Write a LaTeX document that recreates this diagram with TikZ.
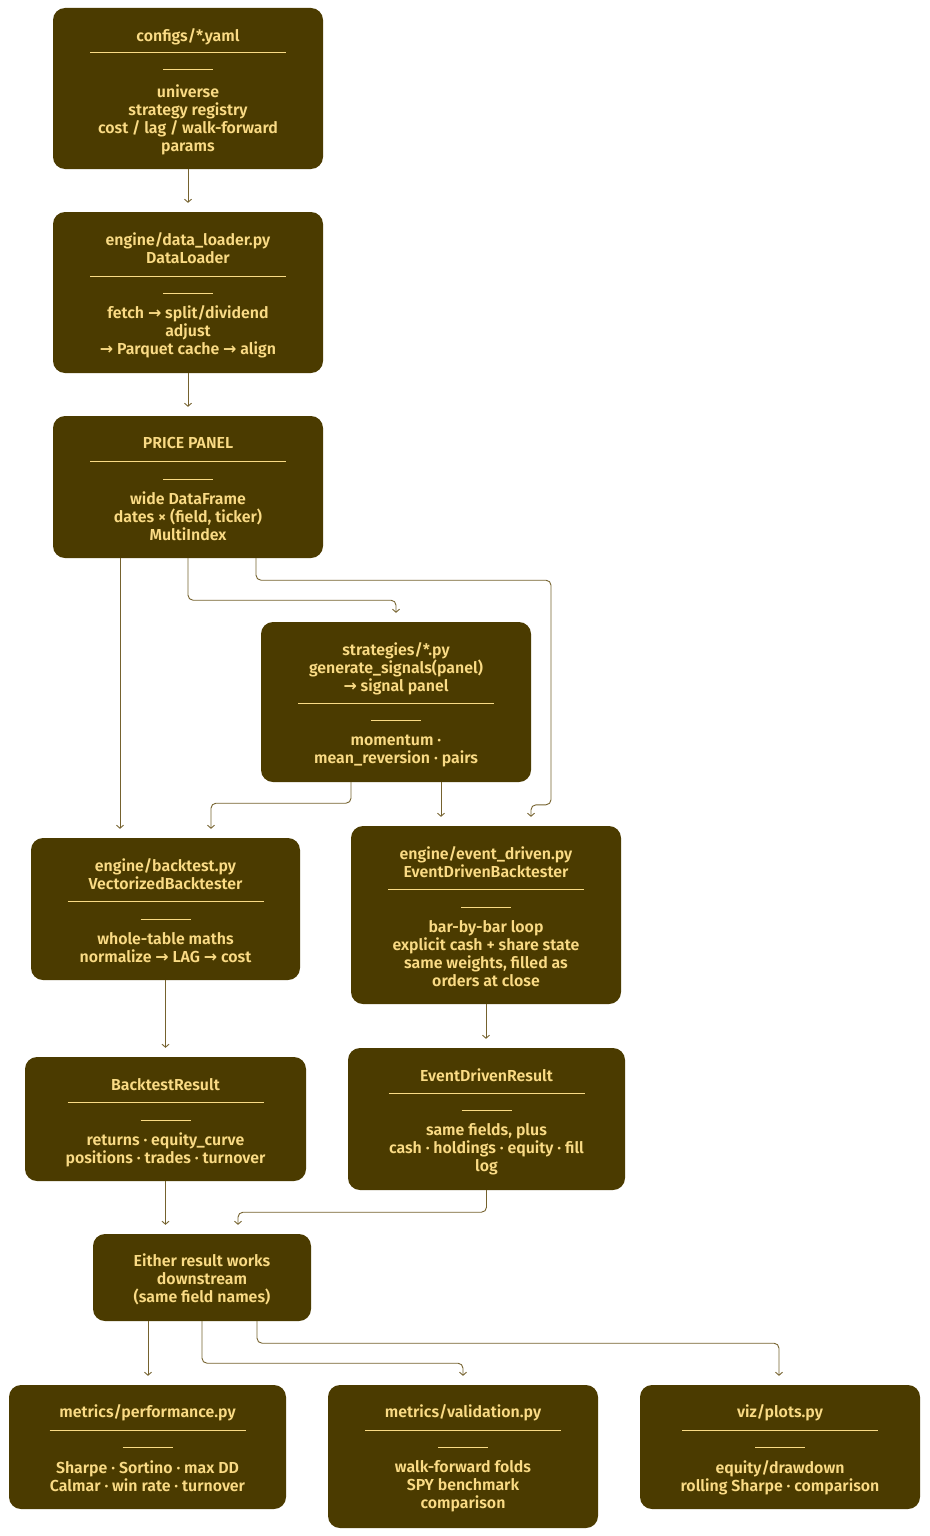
\documentclass[tikz,border=0pt]{standalone}
\usepackage{fontspec}
\setmainfont{Fira Sans}[UprightFont={* Medium}, BoldFont={* SemiBold}]
\newfontfamily\symf{DejaVu Sans}
\usetikzlibrary{arrows.meta,calc}
\definecolor{boxfill}{HTML}{4B3B00}
\definecolor{boxtext}{HTML}{FADB85}
\definecolor{conncol}{HTML}{75622E}
\newcommand{\ar}{{\symf\bfseries →}}
\newcommand{\prules}[3]{%
  \draw[prule] ($(#1.north |- 0,#2)+(-98,0)$) -- ($(#1.north |- 0,#2)+(98,0)$);
  \draw[prule] ($(#1.north |- 0,#3)+(-25,0)$) -- ($(#1.north |- 0,#3)+(25,0)$);}
\tikzset{
 pbox/.style={draw=none, fill=boxfill, rounded corners=12pt, inner sep=0pt},
 ptext/.style={text=boxtext, font=\fontsize{15.9}{18}\selectfont\bfseries, align=center, inner sep=0pt, anchor=north, execute at begin node=\strut},
 prule/.style={draw=boxtext, line width=1pt},
 conn/.style={draw=conncol, line width=0.9pt, rounded corners=5pt, -{Straight Barb[length=3pt,width=7pt]}, shorten >=9pt},
}
\begin{document}
\begin{tikzpicture}[x=1pt,y=-1pt]
\useasboundingbox (0,0) rectangle (929,1536);
% boxes
\node[pbox, minimum width=270pt, minimum height=161pt] (b1) at (188,88.5) {};
\node[pbox, minimum width=270pt, minimum height=161pt] (b2) at (188,292.5) {};
\node[pbox, minimum width=270pt, minimum height=142pt] (b3) at (188,487) {};
\node[pbox, minimum width=270pt, minimum height=160pt] (b4) at (396,702) {};
\node[pbox, minimum width=269pt, minimum height=142pt] (b5) at (165.5,909) {};
\node[pbox, minimum width=270pt, minimum height=178pt] (b6) at (486,915) {};
\node[pbox, minimum width=281pt, minimum height=124pt] (b7) at (165.5,1119) {};
\node[pbox, minimum width=277pt, minimum height=142pt] (b8) at (486.5,1119) {};
\node[pbox, minimum width=218pt, minimum height=87pt] (b9) at (202,1277.5) {};
\node[pbox, minimum width=277pt, minimum height=124pt] (b10) at (147.5,1447) {};
\node[pbox, minimum width=270pt, minimum height=143pt] (b11) at (463,1456.5) {};
\node[pbox, minimum width=280pt, minimum height=124pt] (b12) at (780,1447) {};
% texts
\node[ptext] (b1t) at (b1.north |- 0,28.4) {configs/*.yaml};
\node[ptext] (b1b) at (b1.north |- 0,84.4) {universe\\strategy registry\\cost / lag / walk-forward\\params};
\prules{b1}{53}{70}
\node[ptext] (b2t) at (b2.north |- 0,232.4) {engine/data\_loader.py\\DataLoader};
\node[ptext] (b2b) at (b2.north |- 0,305.4) {fetch \ar{} split/dividend\\adjust\\\ar{} Parquet cache \ar{} align};
\prules{b2}{276}{293}
\node[ptext] (b3t) at (b3.north |- 0,435.4) {PRICE PANEL};
\node[ptext] (b3b) at (b3.north |- 0,491.4) {wide DataFrame\\dates × (field, ticker)\\MultiIndex};
\prules{b3}{461}{479}
\node[ptext] (b4t) at (b4.north |- 0,642.4) {strategies/*.py\\generate\_signals(panel)\\\ar{} signal panel};
\node[ptext] (b4b) at (b4.north |- 0,734.4) {momentum ·\\mean\_reversion · pairs};
\prules{b4}{703}{720}
\node[ptext] (b5t) at (b5.north |- 0,858.4) {engine/backtest.py\\VectorizedBacktester};
\node[ptext] (b5b) at (b5.north |- 0,932.4) {whole-table maths\\normalize \ar{} LAG \ar{} cost};
\prules{b5}{901}{919}
\node[ptext] (b6t) at (b6.north |- 0,846.4) {engine/event\_driven.py\\EventDrivenBacktester};
\node[ptext] (b6b) at (b6.north |- 0,920.4) {bar-by-bar loop\\explicit cash + share state\\same weights, filled as\\orders at close};
\prules{b6}{889}{907}
\node[ptext] (b7t) at (b7.north |- 0,1077.4) {BacktestResult};
\node[ptext] (b7b) at (b7.north |- 0,1132.4) {returns · equity\_curve\\positions · trades · turnover};
\prules{b7}{1102}{1120}
\node[ptext] (b8t) at (b8.north |- 0,1068.4) {EventDrivenResult};
\node[ptext] (b8b) at (b8.north |- 0,1123.4) {same fields, plus\\cash · holdings · equity · fill\\log};
\prules{b8}{1093}{1110}
\node[ptext] (b9b) at (b9.north |- 0,1253.4) {Either result works\\downstream\\(same field names)};
\node[ptext] (b10t) at (b10.north |- 0,1404.4) {metrics/performance.py};
\node[ptext] (b10b) at (b10.north |- 0,1460.4) {Sharpe · Sortino · max DD\\Calmar · win rate · turnover};
\prules{b10}{1430}{1447}
\node[ptext] (b11t) at (b11.north |- 0,1404.4) {metrics/validation.py};
\node[ptext] (b11b) at (b11.north |- 0,1460.4) {walk-forward folds\\SPY benchmark\\comparison};
\prules{b11}{1430}{1447}
\node[ptext] (b12t) at (b12.north |- 0,1404.4) {viz/plots.py};
\node[ptext] (b12b) at (b12.north |- 0,1460.4) {equity/drawdown\\rolling Sharpe · comparison};
\prules{b12}{1430}{1447}
% connector anchor points
\coordinate (s35) at ($(b3.south)+(-68,0)$);
\coordinate (s36) at ($(b3.south)+(68,0)$);
\coordinate (s45) at ($(b4.south)+(-45,0)$);
\coordinate (s46) at ($(b4.south)+(45,0)$);
\coordinate (s910) at ($(b9.south)+(-54,0)$);
\coordinate (s912) at ($(b9.south)+(55,0)$);
% connectors
\draw[conn] (b1.south) -- (b2.north);
\draw[conn] (b2.south) -- (b3.north);
\draw[conn] (s35) -- (s35 |- b5.north);
\draw[conn] (b3.south) -- ++(0,42) -| (b4.north);
\draw[conn] (s36) -- ++(0,22) -| ($(b6.north)+(65,-21)$) -| ($(b6.north)+(45,0)$);
\draw[conn] (s45) -- ++(0,21) -| ($(b5.north)+(45.5,0)$);
\draw[conn] (s46) -- (s46 |- b6.north);
\draw[conn] (b5.south) -- (b7.north);
\draw[conn] (b6.south) -- (b6.south |- b8.north);
\draw[conn] (b7.south) -- (b7.south |- b9.north);
\draw[conn] (b8.south) -- ++(0,22) -| ($(b9.north)+(36,0)$);
\draw[conn] (s910) -- (s910 |- b10.north);
\draw[conn] (b9.south) -- ++(0,42) -| (b11.north);
\draw[conn] (s912) -- ++(0,22) -| ($(b12.north)+(-1,0)$);
\end{tikzpicture}
\end{document}
